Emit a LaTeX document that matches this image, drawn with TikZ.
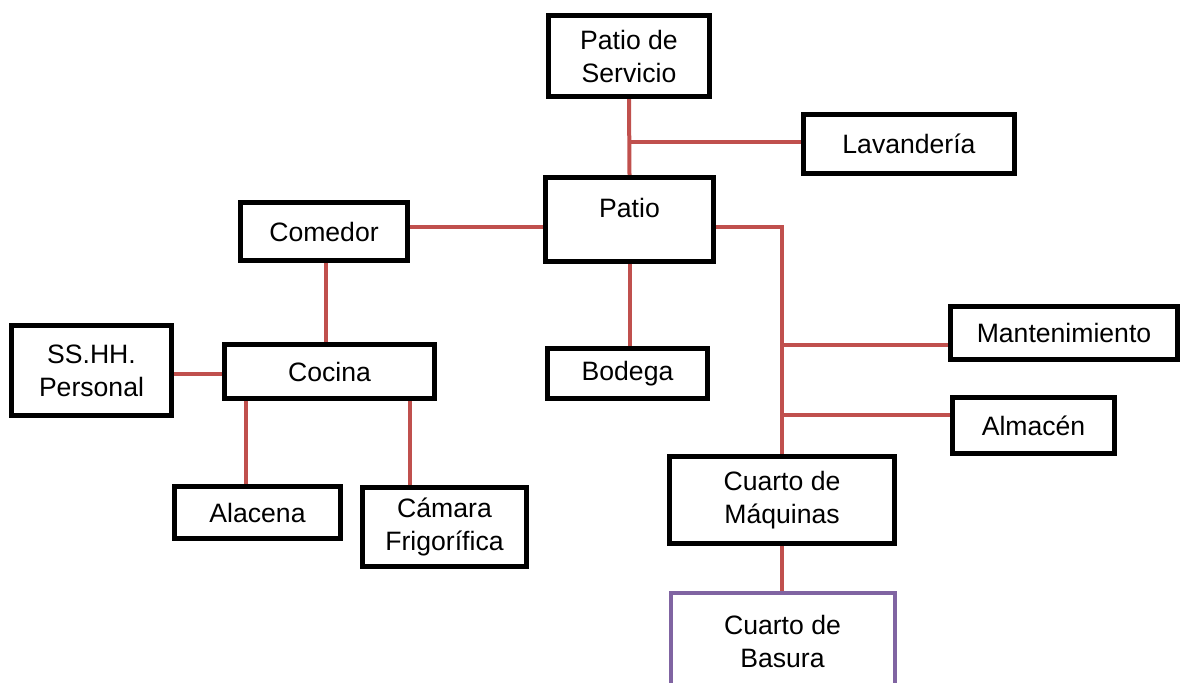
\documentclass[tikz,border=0pt]{standalone}
\usepackage{fontspec}
\setmainfont{Liberation Sans}
\usepackage{xcolor}
\usetikzlibrary{backgrounds}
\definecolor{linkred}{HTML}{C0504D}
\definecolor{linkpurple}{HTML}{8064A2}

\begin{document}
\begin{tikzpicture}[x=0.5pt, y=-0.5pt,
		room/.style={draw=black, line width=2.5pt, fill=white, inner sep=0pt, align=center, font=\fontsize{13.3}{16.5}\selectfont},
		conn/.style={draw=linkred, line width=2pt}]
		\useasboundingbox (0,0) rectangle (1183,683);
		\node[room, minimum width=80.5pt, minimum height=40.5pt] (servicio) at (629,56) {Patio de\\Servicio};
		\node[room, minimum width=105.5pt, minimum height=29.5pt] (lavanderia) at (909,144) {Lavandería};
		\node[room, minimum width=84pt, minimum height=42pt, text depth=11.5pt] (patio) at (629.5,219.5) {Patio};
		\node[room, minimum width=83.5pt, minimum height=29pt] (comedor) at (324,231.5) {Comedor};
		\node[room, minimum width=80pt, minimum height=45pt] (sshh) at (91.5,370.5) {SS.HH.\\Personal};
		\node[room, minimum width=105pt, minimum height=27pt] (cocina) at (329.5,371.5) {Cocina};
		\node[room, minimum width=80pt, minimum height=25pt] (bodega) at (627.5,373.5) {Bodega};
		\node[room, minimum width=113.5pt, minimum height=26.5pt] (mantenimiento) at (1064,333) {Mantenimiento};
		\node[room, minimum width=81pt, minimum height=28pt] (almacen) at (1033.5,425.5) {Almacén};
		\node[room, minimum width=112.5pt, minimum height=43.5pt] (maquinas) at (782,500) {Cuarto de\\Máquinas};
		\node[room, draw=linkpurple, line width=2pt, minimum width=112pt, minimum height=48pt] (basura) at (782.5,641) {Cuarto de\\Basura};
		\node[room, minimum width=83pt, minimum height=26pt] (alacena) at (257.5,513) {Alacena};
		\node[room, minimum width=82pt, minimum height=39.5pt] (camara) at (444.5,527) {Cámara\\Frigorífica};
		\coordinate (lav) at (629,142);
		\coordinate (hall) at (782,227);
		\coordinate (mnt) at (782,345);
		\coordinate (alm) at (782,415);
		\coordinate (sala) at (326,300);
		\coordinate (ss) at (200,374);
		\coordinate (ala) at (246,450);
		\coordinate (cam) at (410,450);
		\begin{scope}[on background layer]
		\draw[conn] (servicio.south) -- (patio.north);
		\draw[conn] (lav) -- (lavanderia.west |- lav);
		\draw[conn] (comedor.east |- hall) -- (patio.west |- hall);
		\draw[conn] (patio.east |- hall) -- (hall) -- (maquinas.north);
		\draw[conn] (mnt) -- (mantenimiento.west |- mnt);
		\draw[conn] (alm) -- (almacen.west |- alm);
		\draw[conn] (patio.south) -- (bodega.north -| patio.south);
		\draw[conn] (comedor.south -| sala) -- (cocina.north -| sala);
		\draw[conn] (sshh.east |- ss) -- (cocina.west |- ss);
		\draw[conn] (cocina.south -| ala) -- (alacena.north -| ala);
		\draw[conn] (cocina.south -| cam) -- (camara.north -| cam);
		\draw[conn] (maquinas.south) -- (basura.north -| maquinas.south);
		\end{scope}
	\end{tikzpicture}
\end{document}
